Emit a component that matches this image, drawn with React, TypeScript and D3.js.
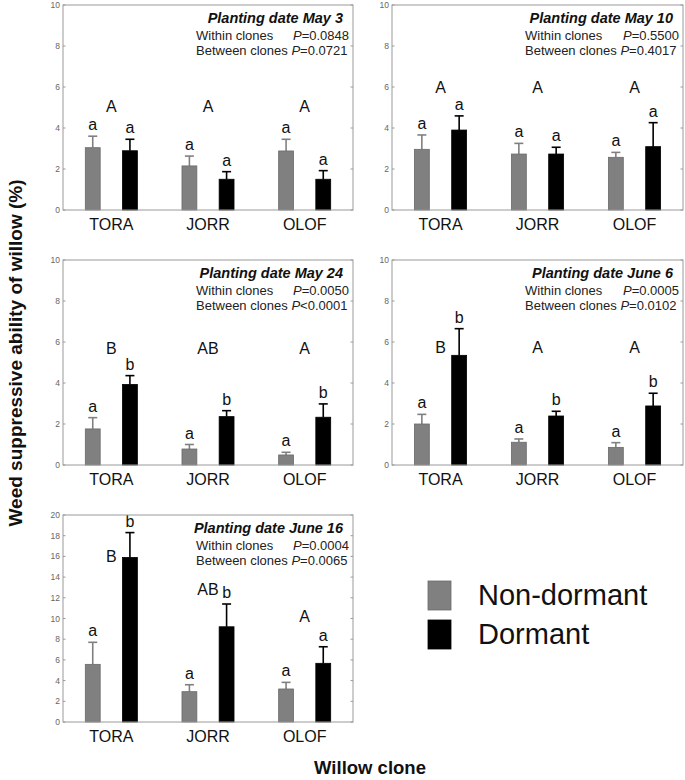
import React from 'react';
import * as d3 from 'd3';

// ---------- data ----------
const clones = ['TORA', 'JORR', 'OLOF'];
const panelTitles = [
  'Planting date May 3',
  'Planting date May 10',
  'Planting date May 24',
  'Planting date June 6',
  'Planting date June 16',
];
const withinP = ['=0.0848', '=0.5500', '=0.0050', '=0.0005', '=0.0004'];
const betweenP = ['=0.0721', '=0.4017', '<0.0001', '=0.0102', '=0.0065'];
const yMaxes = [10, 10, 10, 10, 20];

const nonDormantMean = [
  [3.04, 2.15, 2.88],
  [2.96, 2.73, 2.57],
  [1.76, 0.78, 0.49],
  [2.0, 1.11, 0.86],
  [5.57, 2.93, 3.19],
];
const nonDormantSE = [
  [0.56, 0.48, 0.57],
  [0.7, 0.52, 0.24],
  [0.55, 0.22, 0.13],
  [0.47, 0.16, 0.23],
  [2.13, 0.67, 0.64],
];
const dormantMean = [
  [2.89, 1.5, 1.5],
  [3.9, 2.73, 3.09],
  [3.93, 2.36, 2.33],
  [5.35, 2.39, 2.88],
  [15.9, 9.2, 5.67],
];
const dormantSE = [
  [0.56, 0.37, 0.42],
  [0.69, 0.33, 1.17],
  [0.43, 0.29, 0.65],
  [1.3, 0.23, 0.62],
  [2.4, 2.2, 1.6],
];
const nonDormantLetters = [
  ['a', 'a', 'a'],
  ['a', 'a', 'a'],
  ['a', 'a', 'a'],
  ['a', 'a', 'a'],
  ['a', 'a', 'a'],
];
const dormantLetters = [
  ['a', 'a', 'a'],
  ['a', 'a', 'a'],
  ['b', 'b', 'b'],
  ['b', 'b', 'b'],
  ['b', 'b', 'a'],
];
const cloneLetters = [
  ['A', 'A', 'A'],
  ['A', 'A', 'A'],
  ['B', 'AB', 'A'],
  ['B', 'A', 'A'],
  ['B', 'AB', 'A'],
];
// level (in y units) of the clone letters' baseline
const cloneLetterLevel = [
  [4.78, 4.78, 4.78],
  [5.72, 5.72, 5.72],
  [5.41, 5.41, 5.41],
  [5.45, 5.45, 5.45],
  [15.5, 12.27, 9.69],
];
const legendLabels = ['Non-dormant', 'Dormant'];

// ---------- layout ----------
const W = 685;
const H = 780;
const layout = [
  { x0: 63, x1: 353, y0: 5, y1: 210 },
  { x0: 392, x1: 683, y0: 5, y1: 210 },
  { x0: 63, x1: 353, y0: 260, y1: 465 },
  { x0: 392, x1: 683, y0: 260, y1: 465 },
  { x0: 63, x1: 353, y0: 515, y1: 722 },
];
const GRAY = '#808080';
const FRAME = '#9a9a9a';
const FONT = '"Liberation Sans", Arial, Helvetica, sans-serif';

function Panel({ i }: { i: number }) {
  const L = layout[i];
  const yMax = yMaxes[i];
  const y = d3.scaleLinear().domain([0, yMax]).range([L.y1, L.y0]);
  const x = d3.scaleBand<string>().domain(clones).range([L.x0, L.x1]);
  const xs = d3
    .scaleBand<string>()
    .domain(['nd', 'd'])
    .range([0, x.bandwidth()])
    .paddingInner(0.6)
    .paddingOuter(0.6);
  const ticks = d3.range(0, yMax + 0.001, 2);
  const bw = xs.bandwidth();

  const series = [
    { key: 'nd', mean: nonDormantMean[i], se: nonDormantSE[i], letters: nonDormantLetters[i], color: GRAY, stroke: '#6a6a6a' },
    { key: 'd', mean: dormantMean[i], se: dormantSE[i], letters: dormantLetters[i], color: '#000', stroke: '#000' },
  ];

  return (
    <g>
      {series.map((s) =>
        clones.map((c, j) => {
          const bx = (x(c) as number) + (xs(s.key) as number);
          const cx = bx + bw / 2;
          const top = y(s.mean[j]);
          const eTop = y(s.mean[j] + s.se[j]);
          return (
            <g key={s.key + c}>
              <line x1={cx} x2={cx} y1={top} y2={eTop} stroke={s.color} strokeWidth={1.6} />
              <line x1={cx - 4.5} x2={cx + 4.5} y1={eTop} y2={eTop} stroke={s.color} strokeWidth={1.6} />
              <rect x={bx} y={top} width={bw} height={L.y1 - top} fill={s.color} stroke={s.stroke} strokeWidth={0.8} />
              <text x={cx} y={eTop - 6} textAnchor="middle" fontSize={16} fill="#111">
                {s.letters[j]}
              </text>
            </g>
          );
        })
      )}
      {clones.map((c, j) => (
        <text
          key={'cl' + c}
          x={(x(c) as number) + x.bandwidth() / 2}
          y={y(cloneLetterLevel[i][j])}
          textAnchor="middle"
          fontSize={16}
          fill="#111"
        >
          {cloneLetters[i][j]}
        </text>
      ))}
      <rect x={L.x0} y={L.y0} width={L.x1 - L.x0} height={L.y1 - L.y0} fill="none" stroke={FRAME} strokeWidth={1} />
      {ticks.map((t) => (
        <g key={'t' + t}>
          <line x1={L.x0} x2={L.x0 + 2.5} y1={y(t)} y2={y(t)} stroke={FRAME} />
          <line x1={L.x1} x2={L.x1 - 2.5} y1={y(t)} y2={y(t)} stroke={FRAME} />
          <text x={L.x0 - 3} y={y(t) + 3} textAnchor="end" fontSize={8.5} fill="#666">
            {t}
          </text>
        </g>
      ))}
      {clones.map((c) => (
        <text key={'lab' + c} x={(x(c) as number) + x.bandwidth() / 2} y={L.y1 + 19.5} textAnchor="middle" fontSize={16} fill="#111">
          {c}
        </text>
      ))}
      <text x={L.x1 - 10} y={L.y0 + 18} textAnchor="end" fontSize={14.5} fontWeight="bold" fontStyle="italic" fill="#111">
        {panelTitles[i]}
      </text>
      <text x={L.x0 + 133} y={L.y0 + 35} fontSize={13} fill="#222">
        Within clones
      </text>
      <text x={L.x1 - 4} y={L.y0 + 35} textAnchor="end" fontSize={13} fill="#222">
        <tspan fontStyle="italic">P</tspan>
        {withinP[i]}
      </text>
      <text x={L.x0 + 133} y={L.y0 + 50} fontSize={13} fill="#222">
        Between clones <tspan fontStyle="italic">P</tspan>
        {betweenP[i]}
      </text>
    </g>
  );
}

export default function App() {
  return (
    <svg
      width={W}
      height={H}
      viewBox={`0 0 ${W} ${H}`}
      style={{ position: 'absolute', left: 0, top: 0, background: '#fff' }}
      fontFamily={FONT}
    >
      <rect width={W} height={H} fill="#fff" />
      {layout.map((_, i) => (
        <Panel key={i} i={i} />
      ))}
      {legendLabels.map((lab, k) => (
        <g key={lab}>
          <rect
            x={428}
            y={581 + k * 39}
            width={23}
            height={29}
            fill={k === 0 ? GRAY : '#000'}
            stroke={k === 0 ? '#6a6a6a' : '#000'}
            strokeWidth={0.8}
          />
          <text x={478} y={605 + k * 38.5} fontSize={29} fill="#111">
            {lab}
          </text>
        </g>
      ))}
      <text x={370} y={774} textAnchor="middle" fontSize={18.5} fontWeight="bold" fill="#111">
        Willow clone
      </text>
      <text
        transform="translate(22,353) rotate(-90)"
        textAnchor="middle"
        fontSize={19}
        fontWeight="bold"
        fill="#111"
      >
        Weed suppressive ability of willow (%)
      </text>
    </svg>
  );
}
